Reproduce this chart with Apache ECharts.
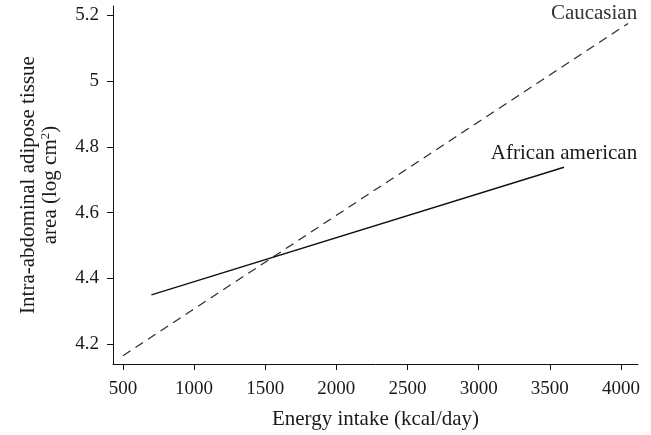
<!DOCTYPE html>
<html>
<head>
<meta charset="utf-8">
<script src="https://cdn.jsdelivr.net/npm/echarts@6/dist/echarts.min.js"></script>
<style>
html,body{margin:0;padding:0;background:#fff;}
#chart{width:651px;height:435px;}
</style>
</head>
<body>
<div id="chart"></div>
<script>
const xTicks = [500, 1000, 1500, 2000, 2500, 3000, 3500, 4000];
const yTicks = [4.2, 4.4, 4.6, 4.8, 5.0, 5.2];
const caucasianX = [500, 4050];
const caucasianY = [4.165, 5.175];
const africanX = [700, 3600];
const africanY = [4.35, 4.738];
const seriesNames = ['Caucasian', 'African american'];

const toPairs = (xs, ys) => xs.map((x, i) => [x, ys[i]]);
const FONT = 'Liberation Serif';
const chart = echarts.init(document.getElementById('chart'), null, {renderer: 'canvas'});
chart.setOption({
  animation: false,
  backgroundColor: '#fff',
  textStyle: {fontFamily: FONT},
  grid: {left: 113, right: 13, top: 6, bottom: 69, containLabel: false},
  xAxis: {
    type: 'value', min: 430, max: 4120,
    name: 'Energy intake (kcal/day)', nameLocation: 'middle', nameGap: 45,
    nameTextStyle: {fontFamily: FONT, fontSize: 21, color: '#1a1a1a'},
    axisLine: {show: true, onZero: false, lineStyle: {color: '#111', width: 1}},
    axisTick: {show: true, length: 6, inside: false, customValues: xTicks, lineStyle: {color: '#111'}},
    axisLabel: {customValues: xTicks, formatter: v => String(v), fontFamily: FONT, fontSize: 19, color: '#1a1a1a', margin: 16},
    splitLine: {show: false}
  },
  yAxis: {
    type: 'value', min: 4.14, max: 5.228,
    name: 'Intra-abdominal adipose tissue\narea (log cm{sup|2})', nameLocation: 'middle', nameRotate: 90, nameGap: 52,
    nameTextStyle: {fontFamily: FONT, fontSize: 21, color: '#1a1a1a', lineHeight: 22, align: 'center',
      rich: {sup: {fontFamily: FONT, fontSize: 13, color: '#1a1a1a', verticalAlign: 'top', padding: [0, 0, 9, 0]}}},
    axisLine: {show: true, onZero: false, lineStyle: {color: '#111', width: 1}},
    axisTick: {show: true, length: 6, inside: false, customValues: yTicks, lineStyle: {color: '#111'}},
    axisLabel: {customValues: yTicks, formatter: v => String(Math.round(v * 10) / 10), fontFamily: FONT, fontSize: 19, color: '#1a1a1a', margin: 14},
    splitLine: {show: false}
  },
  series: [
    {
      name: seriesNames[0], type: 'line', symbol: 'none', clip: false,
      data: toPairs(caucasianX, caucasianY),
      lineStyle: {color: '#2a2a2a', width: 1.2, type: [9, 6]},
      endLabel: {show: true, formatter: seriesNames[0], fontFamily: FONT, fontSize: 21, color: '#333',
        align: 'center', verticalAlign: 'middle', offset: [-42, -10]}
    },
    {
      name: seriesNames[1], type: 'line', symbol: 'none', clip: false,
      data: toPairs(africanX, africanY),
      lineStyle: {color: '#111', width: 1.4},
      endLabel: {show: true, formatter: seriesNames[1], fontFamily: FONT, fontSize: 21, color: '#1a1a1a',
        align: 'center', verticalAlign: 'middle', offset: [-8, -14]}
    }
  ]
});
</script>
</body>
</html>
